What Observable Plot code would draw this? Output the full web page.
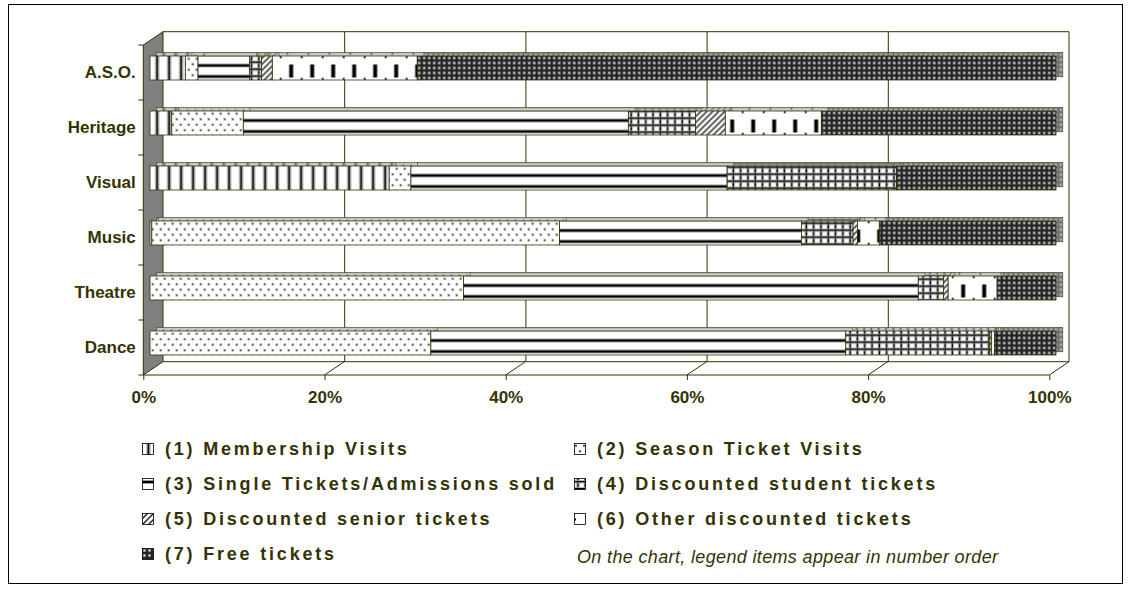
<!DOCTYPE html>
<html><head><meta charset="utf-8">
<script src="https://cdn.jsdelivr.net/npm/d3@7"></script>
<script src="https://cdn.jsdelivr.net/npm/@observablehq/plot@0.6"></script>
<style>
body{margin:0;background:#fff;}
#wrap{position:relative;width:1133px;height:592px;overflow:hidden;background:#fff;font-family:Arial,"Liberation Sans",sans-serif;color:#333300;}
#frame{position:absolute;left:8px;top:4px;width:1115px;height:580px;border:1px solid #000;box-sizing:border-box;}
#chart{position:absolute;left:0;top:0;}
.leg{position:absolute;font-weight:bold;font-size:18px;letter-spacing:2.8px;line-height:18px;white-space:nowrap;}
.sw{position:absolute;}
.note{position:absolute;font-style:italic;font-size:18px;letter-spacing:0.35px;line-height:18px;white-space:nowrap;}
</style></head><body>
<div id="wrap"><div id="frame"></div><div id="chart"></div></div>
<script>
// ---------- data ----------
const categories = ["A.S.O.", "Heritage", "Visual", "Music", "Theatre", "Dance"];
const seriesNames = [
  "(1) Membership Visits",
  "(2) Season Ticket Visits",
  "(3) Single Tickets/Admissions sold",
  "(4) Discounted student tickets",
  "(5) Discounted senior tickets",
  "(6) Other discounted tickets",
  "(7) Free tickets"
];
const membership = [3.9, 2.4, 26.4, 0.2, 0.0, 0.0];
const season     = [1.4, 7.9, 2.4, 45.0, 34.6, 31.0];
const single     = [5.7, 42.5, 34.9, 26.7, 50.2, 45.8];
const student    = [1.3, 7.4, 18.7, 5.7, 2.8, 15.9];
const senior     = [1.2, 3.3, 0.0, 0.5, 0.5, 0.2];
const other      = [16.0, 10.6, 0.0, 2.4, 5.4, 0.3];
const free       = [70.5, 25.9, 17.6, 19.5, 6.5, 6.8];
const tickValues = [0, 20, 40, 60, 80, 100];
const noteText = "On the chart, legend items appear in number order";

// ---------- styling ----------
const OLIVE = "#333300";
const FRONT = {dx: 6.7, dy: -4.5};
const BACK = {dx: 13.4, dy: -7.8};
const DX = 19.7, DY = -13.3;
const series = [membership, season, single, student, senior, other, free];

const rows = [];
categories.forEach((c, i) => {
  const total = d3.sum(series, s => s[i]);
  let cum = 0;
  series.forEach((s, k) => {
    const v = s[i] / total * 100;
    rows.push({cat: c, k, x1: cum, x2: cum + v});
    cum += v;
  });
});
const visible = rows.filter(r => r.x2 - r.x1 > 0);

function frame3D(index, scales, values, dim) {
  const L = dim.marginLeft, R = dim.width - dim.marginRight;
  const T = dim.marginTop, B = dim.height - dim.marginBottom;
  const xs = (scales && typeof scales.x === "function") ? scales.x : (t => L + (R - L) * t / 100);
  const ys = (scales && typeof scales.y === "function") ? scales.y : null;
  const g = d3.create("svg:g").attr("fill", "none").attr("stroke", OLIVE).attr("stroke-width", 1);
  g.append("path").attr("fill", "#808080")
    .attr("d", `M${L},${T}L${L + DX},${T + DY}L${L + DX},${B + DY}L${L},${B}Z`);
  g.append("path").attr("d", `M${L + DX},${T + DY}H${R + DX}V${B + DY}`);
  g.append("path").attr("d", `M${L},${B}H${R}L${R + DX},${B + DY}H${L + DX}`);
  tickValues.slice(1, -1).forEach(t => {
    g.append("path").attr("d", `M${xs(t)},${B}l${DX},${DY}`);
  });
  const bounds = categories.map((c, i) => ys ? ys(c) : T + i * (B - T) / categories.length);
  bounds.push(B);
  bounds.forEach(y => g.append("path").attr("d", `M${L - 5},${y}H${L}`));
  return g.node();
}

const marks = [frame3D,
  Plot.ruleX(tickValues.slice(1, -1), {dx: DX, dy: DY, stroke: OLIVE, strokeWidth: 1})];
const barOpts = {x1: "x1", x2: "x2", y: "cat", insetTop: 15.5, insetBottom: 15.5, stroke: OLIVE, strokeWidth: 0.8};
for (let k = 0; k < series.length; k++) {
  marks.push(Plot.barX(visible.filter(r => r.k === k), {...barOpts, fill: `url(#pat${k})`, dx: BACK.dx, dy: BACK.dy}));
}
marks.push(Plot.barX(visible, {...barOpts, stroke: null, fill: "#a8a8a8", fillOpacity: 0.6, dx: BACK.dx, dy: BACK.dy}));
for (let k = 0; k < series.length; k++) {
  marks.push(Plot.barX(visible.filter(r => r.k === k), {...barOpts, fill: `url(#pat${k})`, dx: FRONT.dx, dy: FRONT.dy}));
}

const plot = Plot.plot({
  width: 1133, height: 410,
  marginLeft: 143.3, marginRight: 83.7, marginTop: 45, marginBottom: 35,
  x: {domain: [0, 100], ticks: tickValues, tickFormat: d => d + "%", tickSize: 5, tickPadding: 10, label: null},
  y: {domain: categories, padding: 0, tickSize: 0, tickPadding: 8, label: null},
  style: {fontFamily: 'Arial, "Liberation Sans", sans-serif', fontSize: "17px", fontWeight: "bold", color: OLIVE, background: "transparent", overflow: "visible"},
  marks
});

// ---------- patterns ----------
const defs = d3.select(plot).insert("defs", ":first-child");
function P(id, w, h) {
  const p = defs.append("pattern").attr("id", id).attr("patternUnits", "userSpaceOnUse").attr("width", w).attr("height", h);
  p.append("rect").attr("width", w).attr("height", h).attr("fill", "#fff");
  return p;
}
function R(p, x, y, w, h, f) { p.append("rect").attr("x", x).attr("y", y).attr("width", w).attr("height", h).attr("fill", f); }
// 0 membership: vertical stripes
let p = P("pat0", 12, 12);
R(p, 4.5, 0, 1, 12, "#999"); R(p, 5.5, 0, 2, 12, "#000"); R(p, 7.5, 0, 1, 12, "#999");
// 1 season: dots
p = P("pat1", 8, 11);
[[2, 2.75], [6, 8.25]].forEach(([cx, cy]) => {
  p.append("circle").attr("cx", cx).attr("cy", cy).attr("r", 1.3).attr("fill", "#aaa");
  p.append("circle").attr("cx", cx).attr("cy", cy).attr("r", 0.8).attr("fill", "#000");
});
// 2 single: horizontal lines
p = P("pat2", 10, 11);
R(p, 0, 2, 10, 1, "#999"); R(p, 0, 3, 10, 2, "#000"); R(p, 0, 5, 10, 1, "#999");
// 3 student: grid
p = P("pat3", 7.3, 7);
R(p, 2.4, 0, 0.8, 7, "#aaa"); R(p, 3.2, 0, 1.6, 7, "#000"); R(p, 4.8, 0, 0.8, 7, "#aaa");
R(p, 0, 2.2, 7.3, 0.8, "#aaa"); R(p, 0, 3, 7.3, 1.6, "#000"); R(p, 0, 4.6, 7.3, 0.8, "#aaa");
// 4 senior: diagonal hatch
p = P("pat4", 6, 6);
p.append("path").attr("d", "M-1,7L7,-1M-1,1L1,-1M5,7L7,5").attr("stroke", "#666").attr("stroke-width", 1.8);
p.append("path").attr("d", "M-1,7L7,-1M-1,1L1,-1M5,7L7,5").attr("stroke", "#111").attr("stroke-width", 0.8);
// 5 other: short vertical bars
p = P("pat5", 21, 55);
R(p, 9, 14, 1, 13, "#888"); R(p, 10, 14, 3, 13, "#000"); R(p, 13, 14, 1, 13, "#888");
R(p, 0, 5.5, 2, 2, "#000"); R(p, 0, 27.5, 2, 2, "#000");
// 6 free: dark grid with light dots
p = P("pat6", 5, 5);
R(p, 0, 0, 5, 5, "#222"); R(p, 1, 1, 3, 3, "#888"); R(p, 2, 2, 1, 1, "#eee");

document.getElementById("chart").appendChild(plot);

// ---------- legend ----------
const wrap = document.getElementById("wrap");
const colSwatch = [142, 574], colText = [165, 597];
seriesNames.forEach((name, i) => {
  const col = i % 2, row = Math.floor(i / 2);
  const base = 455 + row * 35;
  const sw = document.createElementNS("http://www.w3.org/2000/svg", "svg");
  sw.setAttribute("class", "sw");
  sw.setAttribute("width", 12); sw.setAttribute("height", 12);
  sw.style.left = colSwatch[col] + "px"; sw.style.top = (base - 12) + "px";
  const r = document.createElementNS("http://www.w3.org/2000/svg", "rect");
  r.setAttribute("x", 0.5); r.setAttribute("y", 0.5); r.setAttribute("width", 11); r.setAttribute("height", 11);
  r.setAttribute("fill", `url(#pat${i})`); r.setAttribute("stroke", "#000"); r.setAttribute("stroke-width", 0.8);
  sw.appendChild(r);
  wrap.appendChild(sw);
  const t = document.createElement("div");
  t.className = "leg"; t.textContent = name;
  t.style.left = colText[col] + "px"; t.style.top = (base - 15.2) + "px";
  wrap.appendChild(t);
});
const note = document.createElement("div");
note.className = "note"; note.textContent = noteText;
note.style.left = "577px"; note.style.top = (563 - 15.2) + "px";
wrap.appendChild(note);
</script>
</body></html>
